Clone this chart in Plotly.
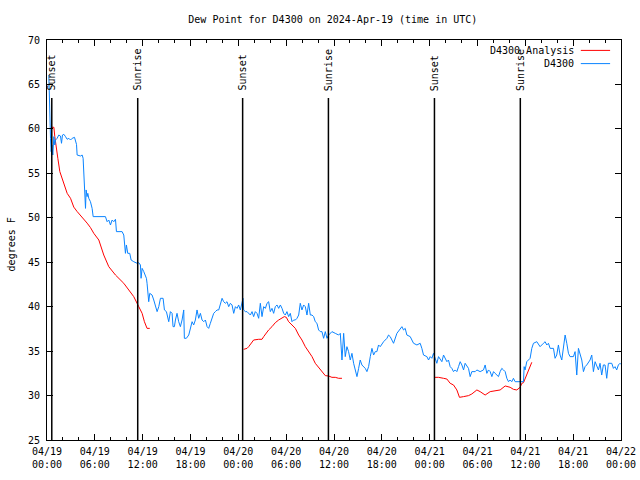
import plotly.graph_objects as go
import pandas as pd

START = pd.Timestamp("2024-04-19 00:00")

# Observed dew point (D4300): hours since 04/19 00:00 UTC, degrees F
obs_hours = [0.23, 0.31, 0.44, 0.52, 0.61, 0.73, 0.77, 0.86, 0.98, 1.07, 1.27, 1.48, 1.69, 1.82, 1.94,
             2.11, 2.32, 2.53, 2.74, 2.95, 3.16, 3.45, 3.70, 3.78, 4.20, 4.41, 4.53, 4.62, 4.74, 4.83,
             4.91, 5.03, 5.12, 5.24, 5.45, 5.66, 5.79, 7.33, 7.54, 7.75, 7.96, 8.17, 8.38, 8.59, 8.71,
             9.42, 9.63, 9.76, 9.84, 9.96, 10.13, 10.38, 10.55, 10.88, 11.30, 11.51, 11.72, 11.80, 11.93,
             12.14, 12.47, 12.55, 12.64, 12.76, 12.89, 13.18, 13.39, 13.60, 13.81, 14.02, 14.23, 14.56,
             14.73, 14.98, 15.27, 15.48, 15.69, 15.81, 15.98, 16.11, 16.31, 16.52, 16.73, 16.94, 17.15,
             17.23, 17.48, 17.78, 17.99, 18.20, 18.40, 18.61, 18.82, 19.03,
             19.24, 19.45, 19.66, 19.87, 20.08, 20.28, 20.49, 20.70, 20.91, 21.12, 21.33, 21.54, 21.75,
             21.96, 22.16, 22.37, 22.58, 22.79, 23.00, 23.21, 23.42, 23.63, 23.84, 24.04, 24.25, 24.46,
             24.59, 24.67, 24.88, 25.09, 25.30, 25.51, 25.72, 25.92, 26.13, 26.34, 26.55, 26.76, 26.97,
             27.18, 27.39, 27.60, 27.80, 28.01, 28.22, 28.43, 28.64, 28.85, 29.06, 29.27, 29.48, 29.69,
             29.89, 30.10, 30.31, 30.52, 30.73, 30.94, 31.15, 31.36, 31.57, 31.77, 31.98, 32.19, 32.40,
             32.61, 32.82, 33.03, 33.24, 33.45, 33.65, 33.86, 34.07, 34.28, 34.49, 34.70, 34.91, 35.12,
             35.33, 35.74, 36.16, 36.58, 36.79, 37.00, 37.21, 37.41, 37.62, 37.83, 38.04, 38.25, 38.46,
             38.67, 38.88, 39.09, 39.29, 39.50, 39.92, 40.13, 40.34, 40.55, 40.76, 40.97, 41.17, 41.38,
             41.59,
             41.80, 42.22, 42.64, 42.84, 43.05, 43.47, 43.89, 44.31, 44.52, 44.72, 44.93, 45.14, 45.56,
             45.77, 45.98, 46.40, 46.81, 47.02, 47.23, 47.65, 47.86, 48.07, 48.28, 48.48, 48.69, 48.90,
             49.11, 49.53, 49.74, 49.95, 50.16, 50.36, 50.57, 50.78, 50.99, 51.20, 51.41, 51.62, 51.83,
             52.04, 52.25, 52.45, 52.66, 52.87, 53.08, 53.29, 53.71, 53.92, 54.33, 54.75, 54.96, 55.17,
             55.38, 55.59, 55.80, 56.01, 56.21, 56.42, 56.63, 56.84, 57.05, 57.26, 57.47, 57.68, 57.89,
             58.09, 58.30, 58.51, 58.72, 59.35, 59.77, 59.85, 59.97, 60.18, 60.39, 60.60, 60.81, 61.02,
             61.44, 61.65, 61.85, 62.27, 62.48, 62.69, 62.90, 63.11, 63.53, 63.73, 63.94, 64.15, 64.36,
             64.57, 64.78, 64.99, 65.20, 65.41, 65.61, 66.03, 66.24, 66.45, 66.66, 66.87, 67.08, 67.29,
             67.49, 67.70, 68.12, 68.33, 68.54, 68.75, 68.96, 69.17, 69.37, 69.58, 69.79, 70.00, 70.21,
             70.42, 70.84, 71.05, 71.25, 71.46, 71.67, 71.88, 72.00]
obs_dewpt = [66.06, 61.75, 58.94, 57.44, 58.19, 57.06, 58.75, 59.13, 58.19, 58.75, 58.94, 59.31, 59.2, 58.38, 59.31,
             59.39, 59.13, 58.83, 58.94, 58.75, 58.94, 59.05, 58.26, 57.06, 56.95, 57.06, 56.69, 55.38, 53.13, 51.06,
             53.13, 52.38, 52.75, 52.19, 51.81, 51.06, 50.13, 50.13, 49.56, 49.75, 49.19, 49.75, 49.56, 49.83, 48.44,
             48.44, 48.06, 46.94, 46.0, 46.94, 46.0, 46.0, 45.25, 45.06, 44.88, 44.95, 44.69, 43.19, 44.31,
             43.94, 43.19, 42.63, 41.5, 40.56, 41.5, 41.31, 40.75, 40.19, 39.44, 40.0, 40.94, 40.94,
             39.63, 39.44, 38.31, 39.44, 39.25, 37.75, 37.75, 38.5, 39.25, 38.31, 37.75, 38.5, 39.63,
             36.44, 36.44, 36.81, 37.56, 38.31, 37.94, 38.5, 39.63, 38.69,
             39.25, 38.5, 38.31, 38.5, 37.75, 37.56, 38.13, 38.69, 39.25, 39.44, 39.63, 39.63, 40.38,
             40.94, 40.56, 40.38, 40.56, 40.0, 40.38, 40.19, 39.25, 40.0, 39.81, 40.19, 39.63, 40.75,
             40.94, 39.63, 39.44, 39.44, 39.25, 39.06, 39.44, 38.88, 39.44, 39.25, 38.69, 40.38, 38.88,
             40.0, 39.81, 40.38, 40.56, 39.44, 39.81, 39.25, 40.0, 40.19, 39.81, 40.19, 39.81, 39.25,
             39.06, 39.44, 38.88, 39.25, 38.31, 38.5, 38.5, 38.69, 39.06, 40.38, 39.63, 40.19, 40.0,
             39.06, 40.38, 39.06, 39.06, 38.88, 38.31, 38.13, 37.38, 37.19, 37.19, 36.44, 37.19, 36.44,
             36.81, 37.19, 37.0, 36.81, 37.0, 34.0, 37.0, 34.38, 35.5, 34.94, 34.0, 34.75, 33.63,
             32.88, 32.13, 33.06, 34.0, 33.44, 33.06, 32.69, 33.25, 34.38, 35.31, 34.56, 34.94, 34.94,
             35.69,
             35.5, 36.06, 36.44, 36.81, 36.63, 35.88, 37.0, 37.56, 37.75, 37.38, 37.56, 36.81, 36.63,
             36.25, 35.88, 35.69, 35.88, 35.31, 34.56, 34.38, 34.0, 34.38, 34.19, 34.75, 34.19, 33.63,
             34.38, 33.81, 34.56, 34.19, 33.81, 34.0, 33.25, 33.06, 32.69, 32.88, 32.69, 33.25, 33.81,
             33.44, 32.88, 33.63, 33.25, 33.06, 32.13, 32.69, 32.69, 32.88, 32.69, 32.88, 33.44, 32.5,
             32.88, 32.69, 32.13, 32.69, 32.5, 32.31, 32.13, 32.69, 33.06, 32.88, 32.69, 31.94, 31.56,
             31.75, 31.56, 31.94, 31.56, 31.56, 31.56, 33.25, 32.88, 33.81, 34.0, 34.19, 35.31, 35.88,
             36.06, 35.69, 35.5, 35.88, 36.06, 35.69, 35.88, 35.31, 35.31, 34.19, 34.56, 35.69, 34.56,
             34.0, 35.31, 36.81, 35.88, 34.75, 34.38, 34.38, 34.94, 32.31, 35.31, 34.75, 34.0, 32.69,
             33.25, 33.44, 34.0, 34.56, 32.69, 33.81, 33.25, 32.88, 33.63, 32.31, 33.44, 33.44, 31.94,
             33.63, 33.63, 33.06, 33.25, 32.88, 33.44, 33.63, 33.5]

# Analysis dew point (D4300 Analysis): three separate segments
ana1_hours = [0.52, 0.86, 0.98, 1.19, 1.36, 1.61, 1.82, 2.11, 2.53, 2.95, 3.36, 3.78, 4.20, 4.62, 5.03,
              5.45, 5.87, 6.50, 7.12, 7.75, 8.59, 9.63, 10.26, 10.88, 11.51, 11.93, 12.22, 12.55, 12.89]
ana1_dewpt = [60.18, 60.18, 59.13, 58.0, 56.69, 55.19, 54.63, 53.69, 52.75, 52.19, 51.2, 50.7, 50.3, 49.8, 49.4,
              48.9, 48.25, 47.5, 45.81, 44.5, 43.56, 42.63, 41.88, 41.13, 40.0, 39.25, 38.31, 37.56, 37.56]
ana2_hours = [24.67, 25.09, 25.30, 25.72, 25.92, 26.55, 26.97, 27.18, 27.60, 27.80, 28.22, 28.64, 29.06,
              29.48, 29.77, 30.02, 30.31, 30.73, 31.15, 31.57, 31.98, 32.40, 32.82, 33.24, 33.65, 34.07,
              34.49, 34.91, 35.33, 35.74, 36.16, 36.58, 37.00]
ana2_dewpt = [35.2, 35.31, 35.5, 36.06, 36.25, 36.33, 36.33, 36.63, 37.19, 37.38, 37.75, 38.2, 38.5,
              38.69, 38.88, 38.8, 38.31, 37.94, 37.56, 36.81, 36.25, 35.5, 34.94, 34.38, 33.63, 33.18,
              32.69, 32.24, 32.2, 32.05, 32.05, 31.94, 31.94]
ana3_hours = [48.61, 49.11, 49.74, 50.16, 50.57, 50.99, 51.41, 51.74, 52.25, 52.87, 53.29, 53.92, 54.33,
              54.96, 55.59, 56.21, 56.84, 57.47, 58.09, 58.51, 58.93, 59.35, 59.56, 59.77, 60.18, 60.60, 60.81]
ana3_dewpt = [32.05, 32.05, 31.94, 31.86, 31.38, 31.19, 30.63, 29.80, 29.88, 29.99, 30.18, 30.63, 30.44,
              30.06, 30.44, 30.55, 30.63, 31.08, 30.93, 30.70, 30.63, 30.93, 31.38, 31.45, 32.31, 33.25, 33.74]

sun_hours = [0.6, 11.38, 24.54, 35.3, 48.6, 59.37]
sun_labels = ["Sunset", "Sunrise", "Sunset", "Sunrise", "Sunset", "Sunrise"]

series_names = ["D4300 Analysis", "D4300"]
series_colors = ["#ff0000", "#0a84ff"]

y_range = [25, 70]
x_range_hours = [0, 72]


def to_time(hours):
    return [None if h is None else START + pd.Timedelta(hours=h) for h in hours]


ana_hours = ana1_hours + [None] + ana2_hours + [None] + ana3_hours
ana_dewpt = ana1_dewpt + [None] + ana2_dewpt + [None] + ana3_dewpt

FONT = "DejaVu Sans Mono"

fig = go.Figure()
fig.add_trace(go.Scatter(x=to_time(ana_hours), y=ana_dewpt, mode="lines", name=series_names[0],
                         line=dict(color=series_colors[0], width=1), connectgaps=False))
fig.add_trace(go.Scatter(x=to_time(obs_hours), y=obs_dewpt, mode="lines", name=series_names[1],
                         line=dict(color=series_colors[1], width=1)))

shapes = []
annotations = []
for h, lab in zip(sun_hours, sun_labels):
    t = START + pd.Timedelta(hours=h)
    shapes.append(dict(type="line", xref="x", yref="paper", x0=t, x1=t, y0=0, y1=0.855,
                       line=dict(color="black", width=1.5)))
    annotations.append(dict(x=t, y=0.868, xref="x", yref="paper", text=lab, textangle=-90,
                            showarrow=False, xanchor="center", yanchor="bottom",
                            font=dict(family=FONT, size=10, color="black")))

# key (legend) drawn gnuplot-style: right-aligned text with sample line on its right
key_y = [0.974, 0.941]
for name, col, yk in zip(series_names, series_colors, key_y):
    annotations.append(dict(x=0.921, y=yk, xref="paper", yref="paper", text=name, showarrow=False,
                            xanchor="right", yanchor="middle",
                            font=dict(family=FONT, size=10, color="black")))
    shapes.append(dict(type="line", xref="paper", yref="paper", x0=0.930, x1=0.981, y0=yk, y1=yk,
                       line=dict(color=col, width=1)))

annotations.append(dict(x=-0.062, y=0.49, xref="paper", yref="paper", text="degrees F", textangle=-90,
                        showarrow=False, xanchor="center", yanchor="middle",
                        font=dict(family=FONT, size=10, color="black")))

fig.update_layout(
    width=640, height=480,
    margin=dict(l=46.5, r=19, t=40, b=40, autoexpand=False),
    paper_bgcolor="white", plot_bgcolor="white",
    showlegend=False,
    title=dict(text="Dew Point for D4300 on 2024-Apr-19 (time in UTC)", x=0.52, xanchor="center",
               y=0.96, yanchor="middle", font=dict(family=FONT, size=10, color="black")),
    font=dict(family=FONT, size=10, color="black"),
    shapes=shapes, annotations=annotations,
)
fig.update_xaxes(
    type="date", automargin=False,
    range=to_time(x_range_hours),
    dtick=6 * 3600 * 1000, tick0=START,
    tickformat="%m/%d<br>%H:%M",
    ticks="inside", ticklen=6, tickcolor="black", tickwidth=1,
    ticklabelstandoff=2,
    minor=dict(dtick=2 * 3600 * 1000, tick0=START, ticks="inside", ticklen=3, tickcolor="black"),
    showline=True, linecolor="black", linewidth=1, mirror="allticks",
    showgrid=False, zeroline=False,
    tickfont=dict(family=FONT, size=10, color="black"),
)
fig.update_yaxes(
    automargin=False,
    range=y_range, dtick=5, tick0=25,
    ticks="inside", ticklen=6, tickcolor="black", tickwidth=1,
    ticklabelstandoff=4,
    showline=True, linecolor="black", linewidth=1, mirror="allticks",
    showgrid=False, zeroline=False,
    tickfont=dict(family=FONT, size=10, color="black"),
)

fig.write_html("out.html")
